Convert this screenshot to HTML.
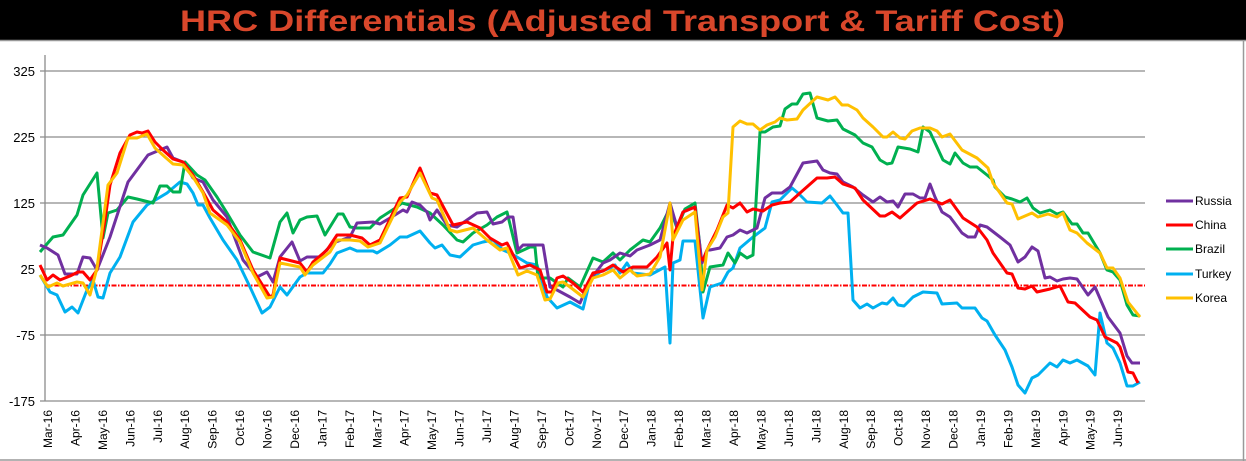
<!DOCTYPE html>
<html><head><meta charset="utf-8"><style>
html,body{margin:0;padding:0;background:#fff;}
svg{display:block;}
</style></head><body>
<svg width="1246" height="461" viewBox="0 0 1246 461" xmlns="http://www.w3.org/2000/svg" font-family="Liberation Sans, DejaVu Sans, sans-serif">
<rect x="0" y="0" width="1246" height="461" fill="#fff"/>
<rect x="0" y="0" width="1246" height="40" fill="#000"/>
<line x1="0" y1="40.5" x2="1246" y2="40.5" stroke="#999" stroke-width="1.5"/>
<line x1="1243.5" y1="40" x2="1243.5" y2="461" stroke="#999" stroke-width="1.5"/>
<line x1="0" y1="460" x2="1246" y2="460" stroke="#999" stroke-width="1.5"/>
<text x="180" y="31" font-size="30" font-weight="600" fill="#D9472B" textLength="885" lengthAdjust="spacingAndGlyphs">HRC Differentials (Adjusted Transport &amp; Tariff Cost)</text>
<g stroke="#8c8c8c" stroke-width="1.3">
<line x1="40" y1="71" x2="1145" y2="71"/>
<line x1="40" y1="137" x2="1145" y2="137"/>
<line x1="40" y1="203" x2="1145" y2="203"/>
<line x1="40" y1="269" x2="1145" y2="269"/>
<line x1="40" y1="335" x2="1145" y2="335"/>
<line x1="40" y1="401" x2="1145" y2="401"/>
<line x1="45" y1="55" x2="45" y2="401"/>
</g>
<g font-size="13" fill="#000" text-anchor="end">
<text x="35" y="76">325</text><text x="35" y="142">225</text><text x="35" y="208">125</text><text x="35" y="274">25</text><text x="35" y="340">-75</text><text x="35" y="406">-175</text>
</g>
<line x1="45" y1="285.5" x2="1145" y2="285.5" stroke="#f00" stroke-width="2" stroke-dasharray="5,1.5,1.5,1.5"/>
<g fill="none" stroke-width="3" stroke-linejoin="round">
<polyline stroke="#00B0F0" points="40,275 50,292 57,295 65,312 72,307 78,313 87,290 93,280 98,297 103,298 110,273 120,257 133,222 147,205 157,199 167,193 180,182 187,184 193,193 198,205 203,205 210,218 223,240 237,260 250,287 262,313 270,307 280,287 287,295 300,277 307,273 323,273 330,264 337,253 350,248 357,251 373,251 377,253 390,245 400,237 407,237 420,231 430,243 435,248 442,245 450,255 460,257 473,245 483,242 493,240 503,250 510,253 517,257 527,263 537,265 547,297 557,308 570,302 583,309 590,280 600,272 610,268 615,265 620,273 627,263 633,273 650,275 665,267 670,343 673,263 680,260 683,241 695,241 703,318 710,287 722,283 728,272 733,268 740,248 753,237 765,228 772,202 780,200 792,188 798,193 807,202 822,203 830,196 837,205 843,213 848,213 853,300 860,308 867,304 873,308 882,303 887,304 893,298 898,305 904,306 913,297 923,292 937,293 942,304 957,303 962,308 975,308 982,318 987,321 995,335 1005,350 1012,367 1018,385 1025,393 1032,378 1038,375 1050,363 1057,367 1063,360 1070,363 1077,360 1088,366 1095,375 1100,313 1107,343 1113,348 1120,363 1127,386 1133,386 1140,382"/>
<polyline stroke="#00B050" points="40,252 53,237 63,235 77,215 83,195 97,173 103,238 108,213 117,210 128,197 137,199 153,203 160,186 167,186 173,192 180,192 185,162 197,175 205,180 217,197 227,213 240,235 253,252 270,258 280,222 287,213 293,233 300,220 307,217 317,216 325,235 338,214 343,214 350,227 357,228 370,228 380,218 397,207 402,203 417,207 430,213 443,225 457,240 463,242 473,233 487,225 497,217 507,212 517,253 530,247 535,247 538,278 550,278 563,287 568,278 580,287 593,258 603,262 613,253 620,260 630,250 643,240 650,242 660,228 670,208 677,228 685,209 695,203 700,247 703,292 710,267 723,265 728,253 735,263 740,253 747,258 753,255 760,132 765,132 773,127 780,126 785,109 792,104 797,104 803,94 810,93 817,118 828,121 837,120 843,129 855,135 863,143 872,147 880,160 887,164 892,163 898,147 910,149 918,152 923,127 930,132 943,160 950,164 955,153 963,163 970,167 977,167 987,175 993,180 995,187 1005,197 1012,199 1020,202 1027,198 1033,208 1040,213 1050,210 1057,214 1063,212 1072,224 1077,224 1083,233 1088,233 1100,253 1107,270 1113,272 1120,280 1127,305 1133,315 1140,316"/>
<polyline stroke="#7030A0" points="40,245 47,248 58,255 65,274 77,274 83,257 90,258 97,270 110,237 128,182 148,155 167,147 173,158 183,162 193,178 203,182 213,200 227,217 243,260 257,277 267,272 273,282 280,257 292,242 300,261 307,257 320,257 333,243 350,237 357,223 373,222 380,224 390,218 403,210 407,212 412,202 420,205 427,212 430,220 437,210 447,225 457,227 467,220 477,213 487,212 493,224 502,222 508,217 513,217 518,250 523,245 543,245 550,287 557,290 570,297 580,303 590,280 603,263 610,260 620,253 630,256 637,250 650,245 660,240 670,203 677,227 683,212 695,207 702,263 707,250 710,250 720,248 727,237 733,235 740,230 747,233 757,228 765,198 772,193 782,193 790,187 803,163 817,161 823,170 830,173 837,174 843,182 853,187 863,195 873,202 880,197 887,202 893,201 898,207 905,194 913,194 920,198 925,198 930,184 935,197 942,212 950,217 962,233 968,237 975,237 980,225 987,227 1000,237 1010,245 1018,262 1025,257 1032,247 1038,251 1045,278 1050,277 1057,281 1063,279 1070,278 1077,279 1088,295 1095,287 1108,317 1120,333 1127,356 1132,363 1140,363"/>
<polyline stroke="#FF0000" points="40,265 47,280 53,275 60,280 70,276 78,272 83,272 90,280 97,270 105,220 110,185 120,153 130,135 137,132 142,133 148,131 155,142 163,150 173,159 183,162 193,175 203,192 213,210 227,222 240,240 253,270 270,297 273,295 280,258 300,263 307,272 313,262 327,250 337,235 350,235 362,238 370,245 380,240 400,198 407,197 420,168 430,193 437,195 453,225 467,222 480,228 490,238 502,245 507,243 520,268 530,265 540,270 547,292 552,292 557,278 563,276 573,283 583,292 593,273 603,271 613,265 623,272 633,267 647,267 657,257 667,243 670,270 673,237 683,212 695,207 700,257 703,260 707,250 717,230 727,205 733,208 740,203 747,212 753,209 763,211 772,205 780,203 790,202 800,193 817,178 827,178 835,177 843,184 855,188 863,200 880,216 885,216 892,212 900,218 917,203 930,199 942,204 950,200 963,218 977,227 987,240 993,253 1007,273 1012,274 1018,288 1025,289 1032,286 1037,292 1050,289 1060,286 1068,302 1075,303 1090,317 1097,320 1105,337 1117,343 1120,347 1128,372 1133,373 1138,383"/>
<polyline stroke="#FFC000" points="40,275 48,287 57,283 63,286 77,282 83,283 90,295 97,268 108,185 117,173 128,138 137,138 147,134 155,148 165,157 173,164 183,165 193,177 203,193 210,213 227,225 240,242 253,273 267,298 273,297 280,263 300,267 305,275 313,265 330,252 337,240 350,240 360,241 368,247 380,243 400,202 407,195 420,173 432,198 437,200 450,230 457,232 473,228 487,240 500,250 507,248 518,275 527,271 537,275 545,300 550,299 558,283 563,282 570,287 583,297 593,278 603,275 613,270 620,278 630,270 637,276 650,274 660,257 670,203 673,240 683,220 695,212 702,290 707,250 715,237 723,217 728,213 733,127 740,121 747,124 753,124 760,130 767,125 775,122 780,118 787,120 797,119 803,110 817,97 828,100 835,97 842,105 848,105 857,110 863,118 873,127 883,137 887,137 893,132 900,138 905,139 912,131 920,128 930,128 937,131 942,137 950,134 962,150 977,158 988,168 993,183 1007,203 1012,204 1018,219 1032,213 1038,217 1048,214 1057,217 1063,213 1070,230 1077,233 1087,243 1100,253 1107,268 1113,268 1120,278 1128,302 1140,317"/>
</g>
<g stroke-width="3">
<line x1="1166" y1="201" x2="1193" y2="201" stroke="#7030A0"/>
<line x1="1166" y1="225" x2="1193" y2="225" stroke="#FF0000"/>
<line x1="1166" y1="249" x2="1193" y2="249" stroke="#00B050"/>
<line x1="1166" y1="274" x2="1193" y2="274" stroke="#00B0F0"/>
<line x1="1166" y1="298" x2="1193" y2="298" stroke="#FFC000"/>
</g>
<g font-size="12" fill="#000">
<text x="1195" y="205">Russia</text>
<text x="1195" y="229">China</text>
<text x="1195" y="253">Brazil</text>
<text x="1195" y="278">Turkey</text>
<text x="1195" y="302">Korea</text>
</g>
<g font-size="12" fill="#000" text-anchor="end">
<text transform="translate(52.0,410) rotate(-90)">Mar-16</text>
<text transform="translate(79.4,410) rotate(-90)">Apr-16</text>
<text transform="translate(106.9,410) rotate(-90)">May-16</text>
<text transform="translate(134.3,410) rotate(-90)">Jun-16</text>
<text transform="translate(161.8,410) rotate(-90)">Jul-16</text>
<text transform="translate(189.2,410) rotate(-90)">Aug-16</text>
<text transform="translate(216.6,410) rotate(-90)">Sep-16</text>
<text transform="translate(244.1,410) rotate(-90)">Oct-16</text>
<text transform="translate(271.5,410) rotate(-90)">Nov-16</text>
<text transform="translate(299.0,410) rotate(-90)">Dec-16</text>
<text transform="translate(326.4,410) rotate(-90)">Jan-17</text>
<text transform="translate(353.8,410) rotate(-90)">Feb-17</text>
<text transform="translate(381.3,410) rotate(-90)">Mar-17</text>
<text transform="translate(408.7,410) rotate(-90)">Apr-17</text>
<text transform="translate(436.2,410) rotate(-90)">May-17</text>
<text transform="translate(463.6,410) rotate(-90)">Jun-17</text>
<text transform="translate(491.0,410) rotate(-90)">Jul-17</text>
<text transform="translate(518.5,410) rotate(-90)">Aug-17</text>
<text transform="translate(545.9,410) rotate(-90)">Sep-17</text>
<text transform="translate(573.4,410) rotate(-90)">Oct-17</text>
<text transform="translate(600.8,410) rotate(-90)">Nov-17</text>
<text transform="translate(628.2,410) rotate(-90)">Dec-17</text>
<text transform="translate(655.7,410) rotate(-90)">Jan-18</text>
<text transform="translate(683.1,410) rotate(-90)">Feb-18</text>
<text transform="translate(710.6,410) rotate(-90)">Mar-18</text>
<text transform="translate(738.0,410) rotate(-90)">Apr-18</text>
<text transform="translate(765.4,410) rotate(-90)">May-18</text>
<text transform="translate(792.9,410) rotate(-90)">Jun-18</text>
<text transform="translate(820.3,410) rotate(-90)">Jul-18</text>
<text transform="translate(847.8,410) rotate(-90)">Aug-18</text>
<text transform="translate(875.2,410) rotate(-90)">Sep-18</text>
<text transform="translate(902.6,410) rotate(-90)">Oct-18</text>
<text transform="translate(930.1,410) rotate(-90)">Nov-18</text>
<text transform="translate(957.5,410) rotate(-90)">Dec-18</text>
<text transform="translate(985.0,410) rotate(-90)">Jan-19</text>
<text transform="translate(1012.4,410) rotate(-90)">Feb-19</text>
<text transform="translate(1039.8,410) rotate(-90)">Mar-19</text>
<text transform="translate(1067.3,410) rotate(-90)">Apr-19</text>
<text transform="translate(1094.7,410) rotate(-90)">May-19</text>
<text transform="translate(1122.2,410) rotate(-90)">Jun-19</text>
</g>
</svg>
</body></html>
